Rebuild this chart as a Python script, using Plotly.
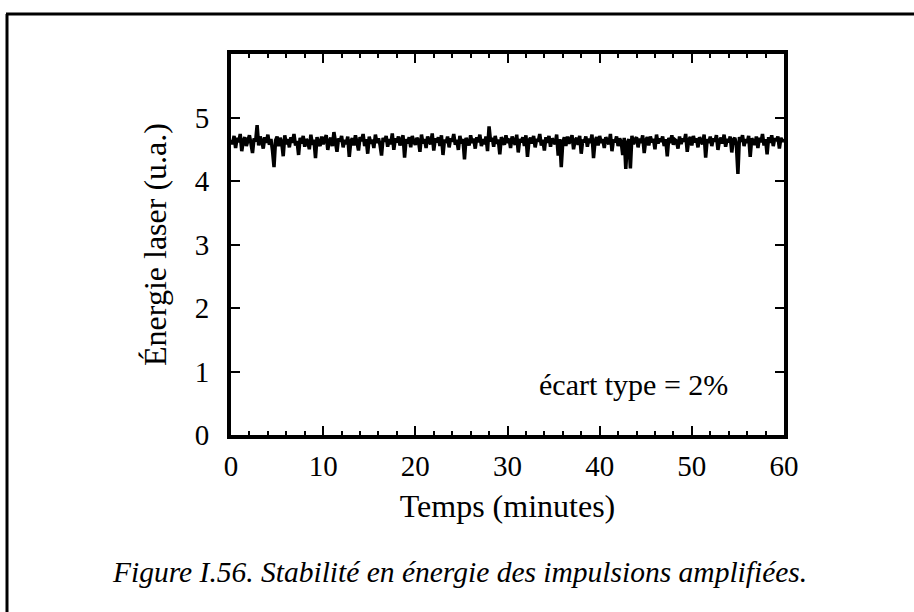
import numpy as np
import plotly.graph_objects as go

# Laser energy readings (hundredths of a.u.), one every 10 s over 60 minutes
energy_c = [
    465,458,471,452,468,461,474,447,463,469,455,466,472,459,444,467,462,488,456,470,
    463,451,469,460,473,457,466,448,422,464,470,455,468,461,439,472,458,466,453,469,
    460,474,456,463,441,468,459,471,454,466,462,450,473,457,465,436,469,461,455,470,
    458,466,472,449,463,468,455,477,460,446,467,462,471,453,465,458,470,438,463,467,
    456,472,461,448,469,463,474,455,466,443,470,459,465,452,473,460,467,457,440,468,
    462,471,454,466,458,475,449,467,461,470,456,464,472,437,466,459,469,453,471,462,
    457,468,464,446,473,459,466,452,470,463,458,475,448,467,461,469,455,472,441,465,
    460,470,453,467,462,474,457,465,449,471,459,466,434,468,463,456,472,460,467,451,
    469,461,473,455,466,458,470,447,486,462,468,454,471,459,465,442,469,463,457,472,
    460,467,452,470,464,457,473,445,466,461,469,455,472,438,464,468,459,471,453,466,
    462,474,456,465,448,469,460,471,454,467,463,458,473,440,466,422,461,469,455,470,
    459,466,472,450,464,468,457,471,443,465,461,470,454,467,460,473,436,463,469,456,
    471,460,466,452,469,463,458,474,447,465,461,470,455,467,462,441,468,419,460,466,
    420,471,458,465,469,453,467,460,472,444,464,469,456,470,461,466,450,473,459,467,
    462,470,455,466,439,468,460,472,457,465,463,451,470,458,467,462,474,446,465,469,
    456,471,461,467,453,469,464,458,473,437,466,460,470,455,467,462,472,449,464,468,
    459,473,454,466,461,470,445,465,468,457,411,469,462,472,455,466,460,471,438,467,
    463,457,470,452,468,461,474,456,466,442,469,460,472,455,467,463,470,451,468,462,466,
]
time_start_min = 0.0
time_end_min = 60.0
x_ticks = [0, 10, 20, 30, 40, 50, 60]
y_ticks = [0, 1, 2, 3, 4, 5]

energy = np.array(energy_c) / 100.0
time_min = np.linspace(time_start_min, time_end_min, len(energy))

SERIF = "Liberation Serif, Times New Roman, serif"

L, R, T, B = 231, 130, 54, 177

fig = go.Figure()
fig.add_trace(go.Scatter(x=time_min, y=energy, mode="lines",
                         line=dict(color="black", width=3.5), showlegend=False,
                         hoverinfo="skip"))

fig.update_layout(
    width=914, height=612,
    margin=dict(l=L, r=R, t=T, b=B),
    paper_bgcolor="white", plot_bgcolor="white",
    font=dict(family=SERIF, color="black", size=29),
    showlegend=False,
)

fig.update_xaxes(
    range=[0, 60], tickvals=x_ticks, ticks="inside", ticklen=9, tickwidth=1.5,
    tickcolor="black", showline=True, linecolor="black", linewidth=4,
    mirror="allticks", showgrid=False, zeroline=False,
    tickfont=dict(family=SERIF, size=29), ticklabelstandoff=2,
    minor=dict(dtick=2, ticks="inside", ticklen=4, tickwidth=1.5, tickcolor="black", showgrid=False),
    title=dict(text="Temps (minutes)", font=dict(family=SERIF, size=32), standoff=15),
)
fig.update_yaxes(
    range=[0, 6], tickvals=y_ticks, ticks="inside", ticklen=9, tickwidth=1.5,
    tickcolor="black", showline=True, linecolor="black", linewidth=4,
    mirror="allticks", showgrid=False, zeroline=False,
    tickfont=dict(family=SERIF, size=29), ticklabelstandoff=12,
    title=dict(text="Énergie laser (u.a.)", font=dict(family=SERIF, size=32), standoff=20),
)

W, H = 914 - L - R, 612 - T - B
def px_x(p):
    return (p - L) / W
def px_y(p):
    return (612 - B - p) / H

fig.add_annotation(x=px_x(730), y=px_y(384), xref="paper", yref="paper",
                   xanchor="right", yanchor="middle",
                   text="écart type = 2%", showarrow=False,
                   font=dict(family=SERIF, size=30, color="black"))

# caption
fig.add_annotation(x=px_x(459), y=px_y(572), xref="paper", yref="paper",
                   xanchor="center", yanchor="middle",
                   text="<i>Figure I.56. Stabilité en énergie des impulsions amplifiées.</i>",
                   showarrow=False, font=dict(family=SERIF, size=29.5, color="black"))

# outer frame (top and left edges)
fig.add_shape(type="line", xref="paper", yref="paper",
              x0=px_x(6), x1=px_x(914), y0=px_y(14), y1=px_y(14),
              line=dict(color="black", width=3))
fig.add_shape(type="line", xref="paper", yref="paper",
              x0=px_x(7), x1=px_x(7), y0=px_y(14), y1=px_y(612),
              line=dict(color="black", width=3))

fig.write_html("out.html", config={"displayModeBar": False},
               post_script="document.body.style.margin='0';")
